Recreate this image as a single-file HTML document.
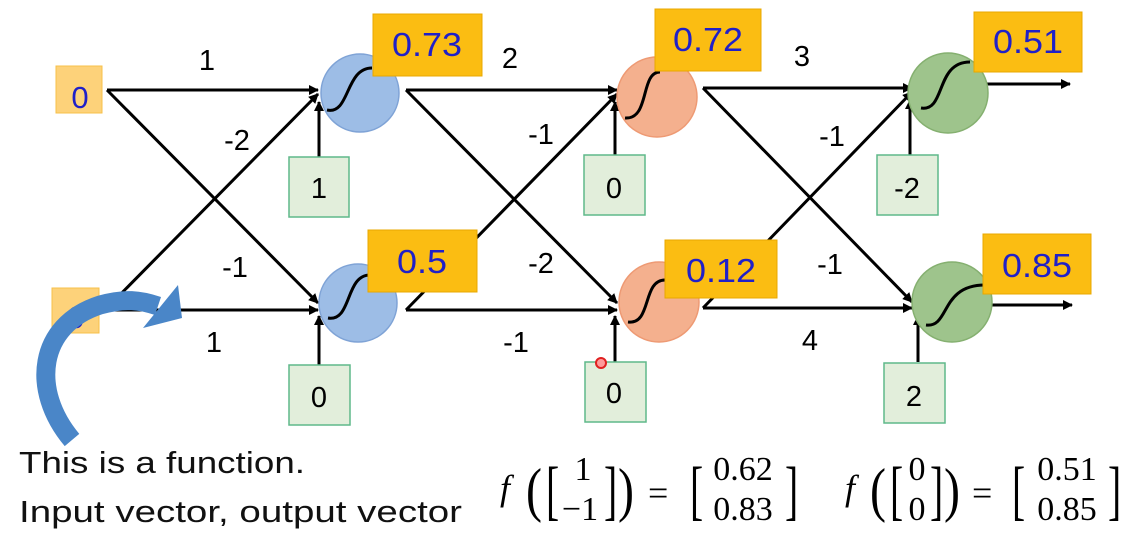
<!DOCTYPE html>
<html><head><meta charset="utf-8"><style>
body{margin:0;background:#fff;width:1148px;height:538px;overflow:hidden}
svg{display:block}
.s{font-family:"Liberation Sans",sans-serif}
.m{font-family:"Liberation Serif",serif}
</style></head><body>
<svg width="1148" height="538" viewBox="0 0 1148 538" xmlns="http://www.w3.org/2000/svg">
<defs>
<marker id="a" markerWidth="10" markerHeight="10" refX="9" refY="5" orient="auto" markerUnits="userSpaceOnUse"><path d="M0,0 L10,5 L0,10 z" fill="#000"/></marker>
</defs>
<g stroke="#000" stroke-width="3" fill="none" marker-end="url(#a)">
<line x1="107" y1="90" x2="318" y2="90"/>
<line x1="107" y1="90" x2="318" y2="303"/>
<line x1="105" y1="310" x2="318" y2="310"/>
<line x1="105" y1="310" x2="318" y2="94"/>
<line x1="319" y1="157" x2="319" y2="102"/>
<line x1="319" y1="365" x2="319" y2="316"/>
<line x1="406" y1="90" x2="617" y2="90"/>
<line x1="406" y1="90" x2="617" y2="303"/>
<line x1="406" y1="310" x2="617" y2="310"/>
<line x1="406" y1="310" x2="617" y2="94"/>
<line x1="615" y1="155" x2="615" y2="102"/>
<line x1="615" y1="362" x2="615" y2="316"/>
<line x1="703" y1="88" x2="912" y2="88"/>
<line x1="703" y1="88" x2="912" y2="302"/>
<line x1="703" y1="308" x2="912" y2="308"/>
<line x1="703" y1="308" x2="912" y2="92"/>
<line x1="910" y1="155" x2="910" y2="100"/>
<line x1="918" y1="362" x2="918" y2="316"/>
<line x1="985" y1="84" x2="1070" y2="84"/>
<line x1="990" y1="305" x2="1072" y2="305"/>
</g>
<g stroke-width="1.5">
<circle cx="360" cy="93" r="39" fill="#9dbde6" stroke="#7fa3d6"/>
<circle cx="358" cy="303" r="39" fill="#9dbde6" stroke="#7fa3d6"/>
<circle cx="657" cy="97" r="40" fill="#f4b08e" stroke="#ee9a74"/>
<circle cx="659" cy="302" r="40" fill="#f4b08e" stroke="#ee9a74"/>
<circle cx="948" cy="93" r="40" fill="#9ec48c" stroke="#85b070"/>
<circle cx="952" cy="302" r="40" fill="#9ec48c" stroke="#85b070"/>
</g>
<g stroke="#000" stroke-width="3" fill="none">
<path d="M327,110 C350,115 345,68 372,68"/>
<path d="M328,318 C352,322 345,275 370,275"/>
<path d="M625,118 C650,120 640,72 660,72"/>
<path d="M628,322 C652,325 642,280 665,280"/>
<path d="M921,108 C946,112 935,62 970,62"/>
<path d="M926,325 C950,328 940,285 985,285"/>
</g>
<g fill="#fbbd12" stroke="#e8a800" stroke-width="1">
<rect x="373" y="14" width="109" height="62"/>
<rect x="368" y="230" width="109" height="62"/>
<rect x="655" y="9" width="106" height="62"/>
<rect x="665" y="240" width="112" height="58"/>
<rect x="974" y="12" width="108" height="60"/>
<rect x="983" y="234" width="108" height="60"/>
</g>
<g class="s" fill="#2020c8" font-size="33" text-anchor="middle">
<text x="427" y="56" textLength="70" lengthAdjust="spacingAndGlyphs">0.73</text>
<text x="422" y="273" textLength="50" lengthAdjust="spacingAndGlyphs">0.5</text>
<text x="708" y="51" textLength="70" lengthAdjust="spacingAndGlyphs">0.72</text>
<text x="721" y="282" textLength="70" lengthAdjust="spacingAndGlyphs">0.12</text>
<text x="1028" y="53" textLength="70" lengthAdjust="spacingAndGlyphs">0.51</text>
<text x="1037" y="277" textLength="70" lengthAdjust="spacingAndGlyphs">0.85</text>
</g>
<rect x="56" y="66" width="46" height="47" fill="#fdd27a" stroke="#f7c04a"/>
<rect x="52" y="288" width="47" height="45" fill="#fdd27a" stroke="#f7c04a"/>
<g class="s" fill="#2020c8" font-size="31" text-anchor="middle">
<text x="80" y="108">0</text><text x="76" y="328">0</text>
</g>
<g fill="#e2eedb" stroke="#5fb88a" stroke-width="1.5">
<rect x="289" y="157" width="60" height="60"/>
<rect x="289" y="365" width="61" height="60"/>
<rect x="584" y="155" width="61" height="60"/>
<rect x="585" y="362" width="61" height="60"/>
<rect x="877" y="155" width="61" height="60"/>
<rect x="884" y="363" width="61" height="60"/>
</g>
<g class="s" fill="#000" font-size="29" text-anchor="middle">
<text x="319" y="198">1</text><text x="319" y="407">0</text>
<text x="614" y="198">0</text><text x="614" y="403">0</text>
<text x="907" y="198">-2</text><text x="914" y="406">2</text>
<text x="207" y="70">1</text><text x="237" y="150">-2</text>
<text x="235" y="277">-1</text><text x="214" y="352">1</text>
<text x="510" y="68">2</text><text x="541" y="144">-1</text>
<text x="541" y="273">-2</text><text x="516" y="352">-1</text>
<text x="802" y="66">3</text><text x="832" y="146">-1</text>
<text x="830" y="274">-1</text><text x="810" y="350">4</text>
</g>
<path d="M72,440 C30,390 38,325 100,305 C125,298 140,300 158,306" fill="none" stroke="#4a86c8" stroke-width="19"/>
<path d="M143,328 L182,318 L178,285 Z" fill="#4a86c8"/>
<circle cx="601" cy="363" r="5" fill="#ff9a9a" stroke="#e02020" stroke-width="2"/>
<g class="s" font-size="31" fill="#111">
<text x="19" y="473" textLength="286" lengthAdjust="spacingAndGlyphs">This is a function.</text>
<text x="19" y="522" textLength="443" lengthAdjust="spacingAndGlyphs">Input vector, output vector</text>
</g>
<g class="m" fill="#000">
<text x="500" y="500" font-size="36" font-style="italic">f</text>
<text x="526" y="510" font-size="60" transform="scale(0.8,1)" transform-origin="526 510">(</text>
<text x="546" y="512" font-size="66" transform="scale(0.6,1)" transform-origin="546 512">[</text>
<text x="583" y="480" font-size="34" text-anchor="middle">1</text>
<text x="580" y="520" font-size="34" text-anchor="middle">−1</text>
<text x="604" y="512" font-size="66" transform="scale(0.6,1)" transform-origin="604 512">]</text>
<text x="618" y="510" font-size="60" transform="scale(0.8,1)" transform-origin="618 510">)</text>
<text x="648" y="505" font-size="36">=</text>
<text x="690" y="512" font-size="66" transform="scale(0.6,1)" transform-origin="690 512">[</text>
<text x="743" y="480" font-size="34" text-anchor="middle">0.62</text>
<text x="743" y="520" font-size="34" text-anchor="middle">0.83</text>
<text x="785" y="512" font-size="66" transform="scale(0.6,1)" transform-origin="785 512">]</text>
<text x="845" y="500" font-size="36" font-style="italic">f</text>
<text x="870" y="510" font-size="60" transform="scale(0.8,1)" transform-origin="870 510">(</text>
<text x="890" y="512" font-size="66" transform="scale(0.6,1)" transform-origin="890 512">[</text>
<text x="917" y="480" font-size="34" text-anchor="middle">0</text>
<text x="917" y="520" font-size="34" text-anchor="middle">0</text>
<text x="930" y="512" font-size="66" transform="scale(0.6,1)" transform-origin="930 512">]</text>
<text x="944" y="510" font-size="60" transform="scale(0.8,1)" transform-origin="944 510">)</text>
<text x="972" y="505" font-size="36">=</text>
<text x="1012" y="512" font-size="66" transform="scale(0.6,1)" transform-origin="1012 512">[</text>
<text x="1067" y="480" font-size="34" text-anchor="middle">0.51</text>
<text x="1067" y="520" font-size="34" text-anchor="middle">0.85</text>
<text x="1108" y="512" font-size="66" transform="scale(0.6,1)" transform-origin="1108 512">]</text>
</g>
</svg>
</body></html>
